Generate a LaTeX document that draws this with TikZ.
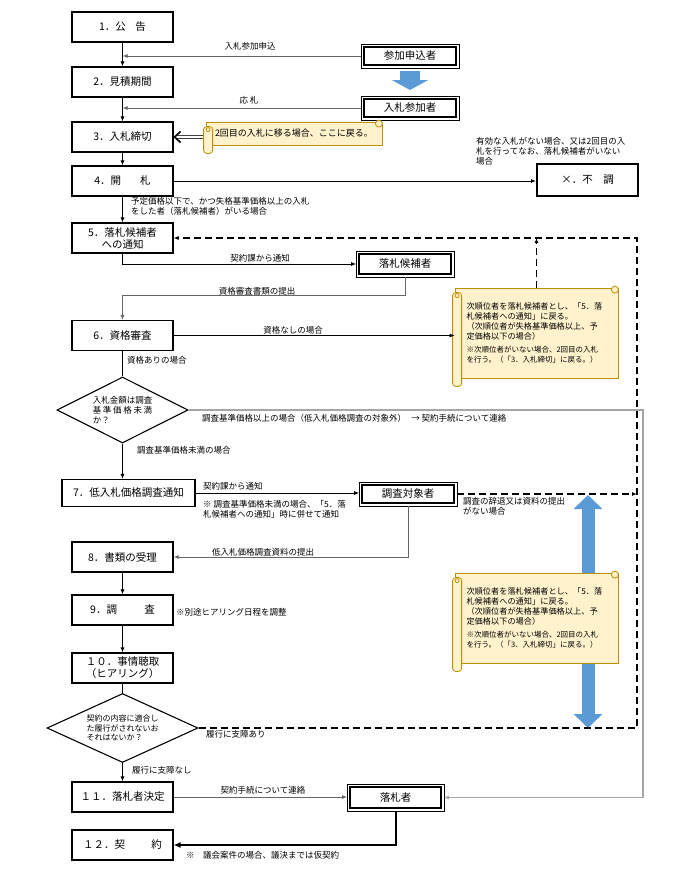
\documentclass[tikz,border=0pt]{standalone}
\usepackage{fontspec}
\setmainfont{Noto Sans CJK JP}
\usepackage{tikz}
\usetikzlibrary{arrows.meta,shapes.geometric}

\newcommand{\nextranktext}{%
  {\fontsize{8.2}{10}\selectfont 次順位者を落札候補者とし、「5．落\\札候補者への通知」に戻る。\\（次順位者が失格基準価格以上、予\\定価格以下の場合）\par}
  \vspace{3pt}
  {\fontsize{7.5}{10}\selectfont ※次順位者がいない場合、2回目の入札\\を行う。（「3．入札締切」に戻る。）\par}}

\begin{document}
\begin{tikzpicture}[x=1pt,y=-1pt,
  >={Latex[length=5pt,width=4pt]},
  stepbox/.style={draw,line width=1.1pt,minimum width=101pt,minimum height=30pt,inner sep=1pt,align=center,font=\fontsize{10.5}{12}\selectfont},
  party/.style={draw,line width=1.1pt,minimum width=92pt,minimum height=18pt,inner sep=1pt,font=\fontsize{10.5}{12}\selectfont},
  query/.style={draw,diamond,line width=1.1pt,aspect=2,inner sep=0pt,align=left,font=\fontsize{8.5}{10}\selectfont},
  note/.style={inner sep=1pt,align=left,font=\fontsize{8.5}{10}\selectfont},
  flow/.style={line width=0.8pt,->},
  feed/.style={draw=black!60,line width=1pt,->},
  retry/.style={line width=1.4pt,dash pattern=on 7pt off 4pt,->},
  grayline/.style={draw=gray!70,line width=1.6pt,->},
  scroll/.style={draw=scrollline,fill=scrollfill,line width=0.8pt},
  memo/.style={scroll,minimum height=90pt,text width=140pt,inner xsep=11.5pt,align=left},
  bluearrow/.style={draw=flowblue,line width=13pt,-{Triangle[width=28pt,length=14pt]}}
]
\definecolor{scrollfill}{HTML}{FFF2CC}
\definecolor{scrollline}{HTML}{BF9000}
\definecolor{flowblue}{HTML}{5B9BD5}
\useasboundingbox (0,0) rectangle (690,895);

% main steps
\foreach \n/\x/\y/\t in {
  b1/122.5/27/{1．公\hspace{0.9em}告},
  b2/122.5/82/{2．見積期間},
  b3/122.5/137/{3．入札締切},
  b4/122.5/181/{4．開\hspace{1.8em}札},
  b5/122.5/238/{5．落札候補者\\への通知},
  b6/122.5/335.5/{6．資格審査},
  b8/122.5/557/{8．書類の受理},
  b9/122.5/610/{9．調\hspace{2.6em}査},
  b10/122.5/668/{１０．事情聴取\\（ヒアリング）},
  b11/122.5/797/{１１．落札者決定},
  b12/122.5/845/{１２．契\hspace{2.5em}約}} {
  \node[stepbox] (\n) at (\x,\y) {\t};
}
\node[stepbox,minimum width=133pt,minimum height=27pt] (b7) at (128.5,493) {7．低入札価格調査通知};
\node[query,minimum width=131pt,minimum height=66pt] (d1) at (122.5,410) {入札金額は調査\\基\hspace{0.2em}準\hspace{0.2em}価\hspace{0.2em}格\hspace{0.2em}未\hspace{0.2em}満\\か？};
\node[query,minimum width=151pt,minimum height=69pt,font=\fontsize{8}{9.5}\selectfont] (d2) at (122.5,728) {契約の内容に適合し\\た履行がされないお\\それはないか？};

% other parties
\node[party] (app) at (410,56) {参加申込者};
\node[party] (bid) at (410,108) {入札参加者};
\node[party,minimum height=20pt] (cand) at (405,264) {落札候補者};
\node[party] (tgt) at (408,494) {調査対象者};
\node[party,minimum width=91pt,minimum height=21pt] (win) at (395.5,797.5) {落札者};
\foreach \p in {app,bid,cand,tgt,win} {
  \draw[line width=0.5pt] ([shift={(-2.3pt,2.3pt)}]\p.north west) rectangle ([shift={(2.3pt,-2.3pt)}]\p.south east);
}
\node[draw,line width=2pt,minimum width=101pt,minimum height=32pt,font=\fontsize{10.5}{12}\selectfont] (fail) at (587.5,180) {×．不　調};

% blue arrows
\draw[draw=flowblue,line width=20pt,-{Triangle[width=36pt,length=10pt]}] (410,71) -- (410,90);
\draw[bluearrow] (588,618) -- (588,495);
\draw[bluearrow] (588,618) -- (588,728);

% scrolls
\node[scroll,minimum width=176pt,minimum height=23pt,font=\fontsize{9}{11}\selectfont] (sc0) at (294,133.5) {2回目の入札に移る場合、ここに戻る。};
\foreach \dy in {1.3pt,-1.3pt} {
  \draw[line width=0.9pt,draw=black!75] ([yshift=\dy]b3.east -| sc0.west) -- ([xshift=3pt,yshift=\dy]b3.east);
}
\draw[line width=1.6pt] ([xshift=7pt,yshift=5.5pt]b3.east) -- ([xshift=1pt]b3.east) -- ([xshift=7pt,yshift=-5.5pt]b3.east);
\node[memo] (sc1) at (536.5,333) {\nextranktext};
\node[memo] (sc2) at (536.5,618) {\nextranktext};
\foreach \s in {sc0,sc1,sc2} {
  \draw[scroll,rounded corners=3pt] ([xshift=-2pt,yshift=-5pt]\s.north west) rectangle ([xshift=7pt,yshift=-8pt]\s.south west);
  \draw[scroll] ([xshift=-3.5pt,yshift=-2pt]\s.north east) circle (3.5pt);
  \draw[scroll] ([xshift=2.5pt,yshift=-8pt]\s.north west) circle (2pt);
}

% connectors
\draw[flow] (b1) -- (b2);
\draw[flow] (b2) -- (b3);
\draw[flow] (b3) -- (b4);
\draw[flow] (b4) -- (b5);
\draw[feed] ([xshift=-2.3pt]app.west) -- (app.west -| b1.south);
\draw[feed] ([xshift=-2.3pt]bid.west) -- (bid.west -| b2.south);
\draw[flow] (b4.east) -- (b4.east -| fail.west);
\draw[flow] (b5.south) |- ([xshift=-2.3pt]cand.west);
\draw[feed] ([yshift=-2.3pt]cand.south) -- ++(0,19) -| (b6.north);
\draw[flow] (b6.east) -- (b6.east -| sc1.west);
\draw[line width=0.8pt] (b6) -- (d1);
\draw[flow] (d1.south) -- (d1.south |- b7.north);
\draw[flow] (b7.east) -- ([xshift=-2.3pt]b7.east -| tgt.west);
\draw[feed] ([yshift=-2.3pt]tgt.south) |- (b8.east);
\draw[flow] (b8) -- (b9);
\draw[flow] (b9) -- (b10);
\draw[line width=0.8pt] (b10) -- (d2);
\draw[flow] (d2) -- (b11);
\draw[feed] (b11.east) -- ([xshift=-2.3pt]b11.east -| win.west);
\draw[line width=2pt,-{Latex[length=7pt,width=6pt]}] ([yshift=-2.3pt]win.south) |- (b12.east);

% return paths
\coordinate (ru) at (637,238);
\coordinate (gr) at (643,410);
\draw[retry] (d2.east) -| (ru) -- (b5.east);
\draw[retry] ([xshift=2.3pt]tgt.east) -- (tgt.east -| ru);
\draw[retry] (sc1.north) -- (sc1.north |- ru);
\draw[grayline] (d1.east) -- (gr) |- ([xshift=2.3pt]win.east);

% labels
\node[note] (l1) at (250,46) {入札参加申込};
\node[note] (l2) at (249,100) {応 札};
\node[note,anchor=west] (l3) at (130,206) {予定価格以下で、かつ失格基準価格以上の入札\\をした者（落札候補者）がいる場合};
\node[note,anchor=west] (l4) at (475,151) {有効な入札がない場合、又は2回目の入\\札を行ってなお、落札候補者がいない\\場合};
\node[note] (l5) at (260,258) {契約課から通知};
\node[note] (l6) at (257,291) {資格審査書類の提出};
\node[note] (l7) at (293,330) {資格なしの場合};
\node[note,anchor=west] (l8) at (126,360) {資格ありの場合};
\node[note,anchor=west] (l9) at (201,418) {調査基準価格以上の場合（低入札価格調査の対象外）\hspace{0.6em}→ 契約手続について連絡};
\node[note,anchor=west] (l10) at (136,450) {調査基準価格未満の場合};
\node[note,anchor=west] (l11) at (202,486) {契約課から通知};
\node[note,anchor=west] (l12) at (202,509) {※ 調査基準価格未満の場合、「5．落\\札候補者への通知」時に併せて通知};
\node[note,anchor=west] (l13) at (462,506) {調査の辞退又は資料の提出\\がない場合};
\node[note] (l14) at (263,552) {低入札価格調査資料の提出};
\node[note,anchor=west] (l15) at (175,612) {※別途ヒアリング日程を調整};
\node[note,anchor=west] (l16) at (205,734) {履行に支障あり};
\node[note,anchor=west] (l17) at (131,770) {履行に支障なし};
\node[note] (l18) at (263,790) {契約手続について連絡};
\node[note,anchor=west] (l19) at (185,855) {※　議会案件の場合、議決までは仮契約};
\end{tikzpicture}
\end{document}
